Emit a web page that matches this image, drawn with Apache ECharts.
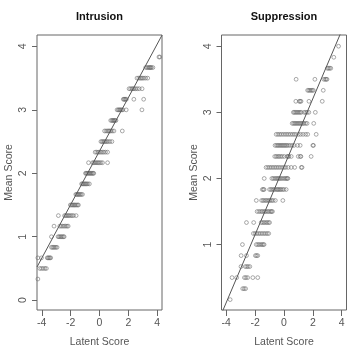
<!DOCTYPE html>
<html>
<head>
<meta charset="utf-8">
<script src="https://cdn.jsdelivr.net/npm/echarts@6/dist/echarts.min.js"></script>
<style>
  html, body { margin: 0; padding: 0; background: #ffffff; }
  #chart { width: 352px; height: 353px; }
</style>
</head>
<body>
<div id="chart"></div>
<script>
// 两个面板的标题
var panelTitles = ["Intrusion", "Suppression"];
var xTicks = [-4, -2, 0, 2, 4];
var yTicks = [0, 1, 2, 3, 4];

// Intrusion: 每个得分水平上的 latent score
var intrusionLevels = [3.833, 3.667, 3.5, 3.333, 3.167, 3.0, 2.833, 2.667, 2.5, 2.333, 2.167, 2.0,
  1.833, 1.667, 1.5, 1.333, 1.167, 1.0, 0.833, 0.667, 0.5, 0.333];
var intrusionX = [
  [4.12, 4.18],
  [3.2, 3.3, 3.38, 3.44, 3.5, 3.55, 3.6, 3.7],
  [2.6, 2.72, 2.82, 2.9, 2.98, 3.08, 3.2, 3.34],
  [2.05, 2.15, 2.25, 2.32, 2.4, 2.5, 2.62, 2.75, 2.95],
  [1.65, 1.7, 1.75, 1.8, 1.86, 2.38, 3.06],
  [1.22, 1.3, 1.36, 1.42, 1.48, 1.55, 1.62, 1.85, 2.94],
  [0.78, 0.86, 0.92, 0.97, 1.02, 1.08, 1.14],
  [0.35, 0.45, 0.55, 0.63, 0.7, 0.78, 0.88, 1.0, 1.58],
  [0.1, 0.18, 0.26, 0.34, 0.42, 0.5, 0.6, 0.72, 0.86],
  [-0.3, -0.2, -0.1, 0.0, 0.1, 0.2, 0.3, 0.42, 0.56],
  [-0.76, -0.48, -0.4, -0.32, -0.24, -0.16, -0.08, 0.0, 0.1, 0.21, 0.56],
  [-0.97, -0.92, -0.86, -0.8, -0.74, -0.68, -0.62, -0.56, -0.5, -0.44, -0.4],
  [-1.24, -1.18, -1.12, -1.06, -1.0, -0.94, -0.88, -0.8, -0.7],
  [-1.64, -1.58, -1.52, -1.46, -1.4, -1.33, -1.26, -1.18],
  [-2.02, -1.94, -1.87, -1.8, -1.74, -1.68, -1.6, -1.52, -1.46],
  [-2.85, -2.42, -2.34, -2.26, -2.18, -2.1, -2.0, -1.9, -1.8, -1.62],
  [-3.15, -2.75, -2.65, -2.55, -2.45, -2.35, -2.25, -2.17],
  [-3.33, -2.87, -2.8, -2.72, -2.65, -2.58, -2.5, -2.45],
  [-3.33, -3.25, -3.18, -3.1, -3.02, -2.94],
  [-4.27, -4.02, -3.62, -3.56, -3.5, -3.44, -3.38],
  [-4.14, -4.02, -3.9, -3.78, -3.68],
  [-4.27]
];

// Suppression
var suppressionLevels = [4.0, 3.833, 3.667, 3.5, 3.333, 3.167, 3.0, 2.833, 2.667, 2.5, 2.333, 2.167,
  2.0, 1.833, 1.667, 1.5, 1.333, 1.167, 1.0, 0.833, 0.667, 0.5, 0.333, 0.167];
var suppressionX = [
  [3.78],
  [3.45],
  [3.0, 3.08, 3.16, 3.24],
  [0.84, 2.14, 2.76, 2.86, 2.92, 2.98],
  [1.64, 1.72, 1.8, 1.88, 1.96, 2.03, 2.72],
  [0.82, 1.06, 1.12, 1.18, 1.73, 2.65],
  [0.65, 0.72, 0.8, 0.88, 0.96, 1.04, 1.12, 1.2, 1.4, 1.5, 1.6, 1.72, 2.17],
  [0.57, 0.66, 0.74, 0.82, 0.9, 0.98, 1.06, 1.14, 1.22, 1.3, 1.38, 1.5, 1.6, 2.06],
  [-0.54, -0.42, -0.3, -0.18, -0.05, 0.08, 0.2, 0.32, 0.45, 0.58, 0.7, 0.82, 1.0, 1.15, 1.32, 1.5, 1.64, 2.23],
  [-0.62, -0.52, -0.44, -0.36, -0.28, -0.2, -0.12, -0.04, 0.04, 0.12, 0.2, 0.3, 0.42, 0.56, 0.7, 0.94, 1.12, 2.0, 2.04],
  [-0.64, -0.54, -0.44, -0.34, -0.24, -0.12, 0.02, 0.22, 0.28, 0.34, 0.5, 0.99, 1.13, 1.17, 1.88],
  [-1.24, -1.12, -1.0, -0.88, -0.76, -0.64, -0.52, -0.4, -0.28, -0.14, 0.0, 0.12, 0.29, 0.5, 0.74, 1.2, 1.25],
  [-1.37, -0.84, -0.74, -0.64, -0.54, -0.46, -0.38, -0.3, -0.22, -0.12, -0.02, 0.08, 0.16, 0.22, 0.27],
  [-1.5, -1.43, -1.38, -1.0, -0.9, -0.8, -0.7, -0.6, -0.5, -0.43, -0.36, -0.28, -0.2, -0.1, 0.0, 0.15],
  [-1.92, -1.55, -1.45, -1.35, -1.25, -1.15, -1.05, -0.95, -0.85, -0.75, -0.6, -0.08],
  [-1.86, -1.74, -1.62, -1.52, -1.42, -1.32, -1.22, -1.12, -1.02, -0.92, -0.86, -0.8],
  [-2.6, -2.1, -1.58, -1.48, -1.38, -1.28, -1.18, -1.08, -1.0],
  [-2.12, -2.0, -1.88, -1.76, -1.64, -1.52, -1.4, -1.28, -1.16, -1.06],
  [-2.88, -1.92, -1.82, -1.72, -1.62, -1.52, -1.44, -1.38],
  [-2.97, -2.6, -1.98, -1.9, -1.82],
  [-2.98, -2.68, -2.58, -2.48, -2.37],
  [-3.6, -3.28, -2.74, -2.64, -2.52, -2.16, -1.82],
  [-2.86, -2.76, -2.66],
  [-3.73]
];

// 拟合直线 (截距, 斜率)
var intrusionFit = [2.35, 0.422];
var suppressionFit = [2.18, 0.514];

var xLimits = [-4.33, 4.33];
var yLimits = [[-0.155, 4.18], [0.01, 4.17]];

function toPoints(levels, xs) {
  var pts = [];
  levels.forEach(function (y, i) {
    xs[i].forEach(function (x) { pts.push([x, y]); });
  });
  return pts;
}

function fitLine(fit) {
  return [xLimits[0], xLimits[1]].map(function (x) { return [x, fit[0] + fit[1] * x]; });
}

var labelFont = { color: "#555", fontSize: 10.5, fontFamily: "Liberation Sans, Arial, sans-serif" };
var gridPos = [
  { left: 37, top: 35, width: 125, height: 280 },
  { left: 221.5, top: 35, width: 125, height: 280 }
];

var chart = echarts.init(document.getElementById("chart"));

var option = {
  animation: false,
  backgroundColor: "#ffffff",
  grid: gridPos.map(function (g) {
    return Object.assign({ show: true, borderColor: "#666", borderWidth: 1, backgroundColor: "transparent" }, g);
  }),
  graphic: panelTitles.map(function (t, i) {
    return {
      type: "text",
      x: gridPos[i].left + gridPos[i].width / 2,
      y: 17,
      style: {
        text: t, fill: "#111", font: "bold 11px Liberation Sans, Arial, sans-serif",
        textAlign: "center", textVerticalAlign: "middle"
      }
    };
  }),
  xAxis: [0, 1].map(function (i) {
    return {
      type: "value", gridIndex: i, min: xLimits[0], max: xLimits[1],
      name: "Latent Score", nameLocation: "middle", nameGap: 27,
      nameTextStyle: labelFont,
      axisLine: { show: false, onZero: false },
      axisTick: { show: true, length: 6, customValues: xTicks, lineStyle: { color: "#666" } },
      axisLabel: Object.assign({ customValues: xTicks, margin: 8 }, labelFont),
      splitLine: { show: false }
    };
  }),
  yAxis: [0, 1].map(function (i) {
    return {
      type: "value", gridIndex: i, min: yLimits[i][0], max: yLimits[i][1],
      name: "Mean Score", nameLocation: "middle", nameGap: 22,
      nameTextStyle: labelFont,
      axisLine: { show: false, onZero: false },
      axisTick: { show: true, length: 5, customValues: yTicks, lineStyle: { color: "#666" } },
      axisLabel: Object.assign({ customValues: yTicks, margin: 8, rotate: 90 }, labelFont),
      splitLine: { show: false }
    };
  }),
  series: [
    {
      type: "scatter", xAxisIndex: 0, yAxisIndex: 0, symbol: "circle", symbolSize: 3.8,
      data: toPoints(intrusionLevels, intrusionX),
      itemStyle: { color: "rgba(0,0,0,0)", borderColor: "#666", borderWidth: 0.7 },
      silent: true
    },
    {
      type: "line", xAxisIndex: 0, yAxisIndex: 0, data: fitLine(intrusionFit),
      showSymbol: false, clip: true, lineStyle: { color: "#555", width: 1 }, silent: true
    },
    {
      type: "scatter", xAxisIndex: 1, yAxisIndex: 1, symbol: "circle", symbolSize: 3.8,
      data: toPoints(suppressionLevels, suppressionX),
      itemStyle: { color: "rgba(0,0,0,0)", borderColor: "#666", borderWidth: 0.7 },
      silent: true
    },
    {
      type: "line", xAxisIndex: 1, yAxisIndex: 1, data: fitLine(suppressionFit),
      showSymbol: false, clip: true, lineStyle: { color: "#555", width: 1 }, silent: true
    }
  ]
};

chart.setOption(option);
</script>
</body>
</html>
